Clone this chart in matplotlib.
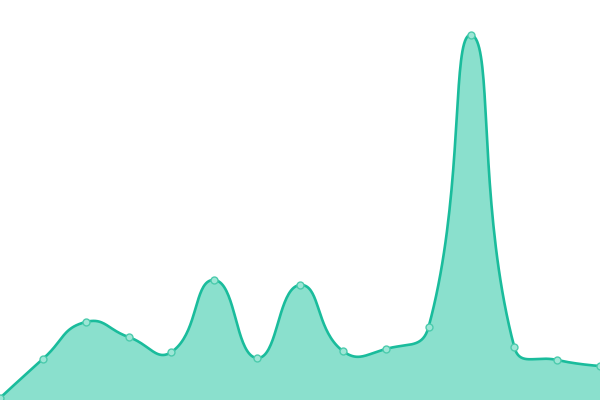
import matplotlib
matplotlib.use("Agg")
import matplotlib.pyplot as plt
import numpy as np

# values (pixel heights above the bottom edge)
x_idx = list(range(15))
values = [2, 41, 78, 63, 48, 120, 42, 115, 49, 51, 73, 365, 53, 40, 34]

LINE = "#1abc9c"
FILL = "#8ae0cd"


def smooth_bezier(pts, smooth=0.5):
    """Control points weighted by segment length (echarts-like smoothing)."""
    n = len(pts)
    cps = []
    for i in range(n):
        p = pts[i]
        if i == 0 or i == n - 1:
            cps.append((p, p))
            continue
        v = (pts[i + 1] - pts[i - 1]) * smooth
        d0 = np.hypot(*(p - pts[i - 1]))
        d1 = np.hypot(*(p - pts[i + 1]))
        s = d0 + d1
        cps.append((p - v * d0 / s, p + v * d1 / s))
    out = []
    t = np.linspace(0, 1, 40)[:, None]
    for i in range(n - 1):
        p0, c0, c1, p1 = pts[i], cps[i][1], cps[i + 1][0], pts[i + 1]
        seg = ((1 - t) ** 3) * p0 + 3 * ((1 - t) ** 2) * t * c0 + 3 * (1 - t) * t ** 2 * c1 + t ** 3 * p1
        out.append(seg if i == 0 else seg[1:])
    return np.vstack(out)


def main():
    fig = plt.figure(figsize=(6, 4), dpi=100)
    ax = fig.add_axes([0, 0, 1, 1])
    ax.set_xlim(0, 14)
    ax.set_ylim(0, 400)
    ax.axis("off")

    # smooth in display space, then go back to data coords
    disp = ax.transData.transform(np.column_stack([x_idx, values]))
    curve = ax.transData.inverted().transform(smooth_bezier(disp))

    ax.fill_between(curve[:, 0], curve[:, 1], 0, color=FILL, lw=0, zorder=1)
    ax.plot(curve[:, 0], curve[:, 1], color=LINE, lw=1.9, zorder=2, solid_capstyle="round")
    ax.plot(x_idx, values, "o", ms=5, mfc="#9de6d6", mec="#4ccbad", mew=1, zorder=3, clip_on=False)

    fig.savefig("out.png", dpi=100)


if __name__ == "__main__":
    main()
